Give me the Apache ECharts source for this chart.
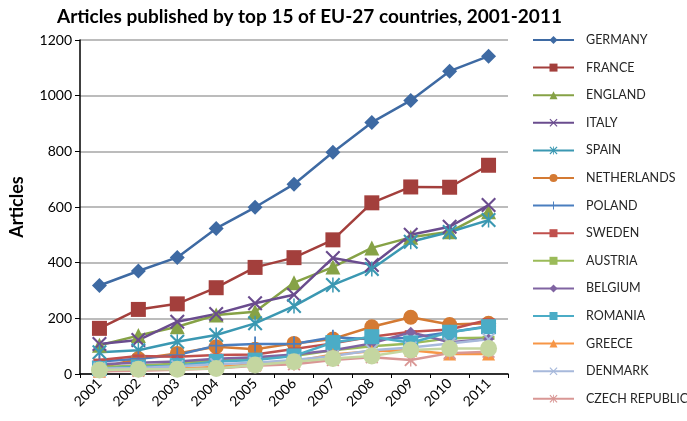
<!DOCTYPE html>
<html>
<head>
<meta charset="utf-8">
<script src="https://cdn.jsdelivr.net/npm/echarts@6/dist/echarts.min.js"></script>
<style>
  html, body { margin: 0; padding: 0; background: #ffffff; }
  #chart { width: 687px; height: 421px; }
</style>
</head>
<body>
<div id="chart"></div>
<script>
// Years on the category axis
const years = ['2001', '2002', '2003', '2004', '2005', '2006', '2007', '2008', '2009', '2010', '2011'];

// Articles per year, by country
const germany     = [318, 370, 419, 523, 599, 682, 797, 904, 983, 1088, 1142];
const france      = [164, 232, 252, 310, 383, 418, 482, 615, 672, 671, 750];
const england     = [103, 138, 170, 212, 224, 328, 384, 453, 491, 511, 583];
const italy       = [108, 122, 188, 216, 254, 285, 417, 392, 500, 529, 607];
const spain       = [78, 85, 116, 140, 182, 244, 320, 377, 475, 510, 553];
const netherlands = [22, 55, 74, 98, 89, 110, 126, 170, 204, 178, 182];
const poland      = [45, 55, 68, 102, 108, 108, 132, 125, 130, 150, 172];
const sweden      = [50, 65, 62, 68, 70, 90, 110, 134, 152, 160, 195];
const austria     = [25, 30, 38, 50, 55, 65, 85, 100, 110, 128, 130];
const belgium     = [35, 40, 45, 55, 60, 70, 85, 110, 150, 114, 126];
const romania     = [20, 25, 30, 45, 50, 65, 113, 134, 112, 150, 170];
const greece      = [10, 15, 20, 25, 35, 45, 70, 82, 85, 72, 72];
const denmark     = [20, 22, 28, 35, 40, 50, 65, 85, 95, 110, 125];
const czech       = [10, 12, 15, 20, 30, 35, 50, 60, 50, 75, 80];
const rank15      = [14, 17, 17, 20, 32, 44, 56, 65, 86, 92, 92];

// Y axis scale
const yMin = 0, yMax = 1200, yStep = 200;

// Marker outlines
const X_PATH = 'path://M2,0 L10,8 L18,0 L20,2 L12,10 L20,18 L18,20 L10,12 L2,20 L0,18 L8,10 L0,2 Z';
const STAR_PATH = 'path://M2,0 L10,8 L18,0 L20,2 L12,10 L20,18 L18,20 L10,12 L2,20 L0,18 L8,10 L0,2 Z M9,0 L11,0 L11,20 L9,20 Z';
const PLUS_PATH = 'path://M8.8,0 L11.2,0 L11.2,8.8 L20,8.8 L20,11.2 L11.2,11.2 L11.2,20 L8.8,20 L8.8,11.2 L0,11.2 L0,8.8 L8.8,8.8 Z';

const defs = [
  { name: 'GERMANY',        data: germany,     color: '#3E6AA3', symbol: 'diamond', size: 15 },
  { name: 'FRANCE',         data: france,      color: '#A33F3C', symbol: 'rect',    size: 15 },
  { name: 'ENGLAND',        data: england,     color: '#86A246', symbol: 'triangle', size: 15 },
  { name: 'ITALY',          data: italy,       color: '#6A4C8E', symbol: X_PATH,    size: 15 },
  { name: 'SPAIN',          data: spain,       color: '#3B98B2', symbol: STAR_PATH, size: 15 },
  { name: 'NETHERLANDS',    data: netherlands, color: '#D47A33', symbol: 'circle',  size: 15 },
  { name: 'POLAND',         data: poland,      color: '#4A7EBF', symbol: PLUS_PATH, size: 15 },
  { name: 'SWEDEN',         data: sweden,      color: '#C0504D', symbol: 'rect',    size: [12, 3] },
  { name: 'AUSTRIA',        data: austria,     color: '#9BBB59', symbol: 'rect',    size: [12, 4] },
  { name: 'BELGIUM',        data: belgium,     color: '#8064A2', symbol: 'diamond', size: 11 },
  { name: 'ROMANIA',        data: romania,     color: '#4BACC6', symbol: 'rect',    size: 15 },
  { name: 'GREECE',         data: greece,      color: '#F79646', symbol: 'triangle', size: 13 },
  { name: 'DENMARK',        data: denmark,     color: '#A7B9DB', symbol: X_PATH,    size: 13 },
  { name: 'CZECH REPUBLIC', data: czech,       color: '#D99795', symbol: STAR_PATH, size: 13 },
  { name: 'RANK 15',        data: rank15,      color: '#C4D6A0', symbol: 'circle',  size: 17 }
];

const legendNames = defs.slice(0, 14).map(d => d.name);

const chart = echarts.init(document.getElementById('chart'), null, { renderer: 'canvas' });

chart.setOption({
  animation: false,
  backgroundColor: '#ffffff',
  textStyle: { fontFamily: 'Lato' },
  title: {
    text: 'Articles published by top 15 of EU-27 countries, 2001-2011',
    left: 52,
    top: 2,
    textStyle: { fontFamily: 'Lato', fontWeight: 'bold', fontSize: 19, color: '#000000' }
  },
  legend: {
    data: legendNames,
    orient: 'vertical',
    left: 527,
    top: 28,
    itemWidth: 41,
    itemHeight: 10,
    itemGap: 13.6,
    textStyle: { fontFamily: 'Lato', fontSize: 12.5, color: '#262626', lineHeight: 14, padding: [0, 0, 0, 7] }
  },
  grid: { left: 73, right: 179, top: 40, bottom: 47, containLabel: false },
  xAxis: {
    type: 'category',
    data: years,
    boundaryGap: true,
    axisLine: { lineStyle: { color: '#000000', width: 1.5 } },
    axisTick: { show: true, length: 4, lineStyle: { color: '#000000' } },
    axisLabel: { rotate: 45, fontSize: 14, color: '#000000', margin: 7, fontFamily: 'Lato' },
    splitLine: { show: false }
  },
  yAxis: {
    type: 'value',
    min: yMin,
    max: yMax,
    interval: yStep,
    name: 'Articles',
    nameLocation: 'middle',
    nameRotate: 90,
    nameGap: 54,
    nameTextStyle: { fontFamily: 'Lato', fontWeight: 'bold', fontSize: 18, color: '#000000' },
    axisLine: { show: true, lineStyle: { color: '#000000', width: 1.5 } },
    axisTick: { show: true, length: 5, lineStyle: { color: '#000000' } },
    axisLabel: { fontSize: 14, color: '#000000', margin: 8, fontFamily: 'Lato', formatter: v => String(v) },
    splitLine: { show: true, lineStyle: { color: '#A6A6A6', width: 1.5 } }
  },
  series: defs.map(d => ({
    name: d.name,
    type: 'line',
    data: d.data,
    symbol: d.symbol,
    symbolSize: d.size,
    showAllSymbol: true,
    lineStyle: { color: d.color, width: 2.5 },
    itemStyle: { color: d.color },
    emphasis: { disabled: true }
  }))
});
</script>
</body>
</html>
